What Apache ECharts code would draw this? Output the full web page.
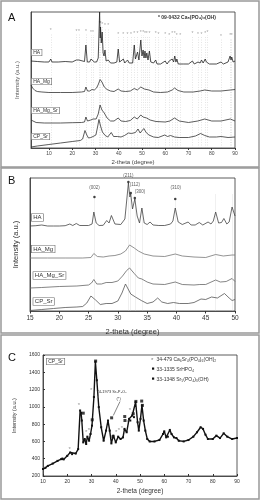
<!DOCTYPE html>
<html>
<head>
<meta charset="utf-8">
<script src="https://cdn.jsdelivr.net/npm/echarts@6/dist/echarts.min.js"></script>
<style>
  html, body { margin: 0; padding: 0; background: #fff; }
  #main { width: 261px; height: 500px; }
</style>
</head>
<body>
<div id="main"></div>
<script>
// ---- panel A : full scan, traces stacked with offsets (a.u.) ----
const aHA = [[2.3,87],[3,86],[5,86.5],[8,86],[10,86],[10.8,89],[11.3,86],[14,86],[17,86.5],[20,86],[21.8,88],[22.4,86],[22.9,88],[23.5,86],[25.3,86.5],[25.9,103],[26.5,86],[27.5,86],[28.1,89],[28.5,87],[28.9,91],[29.5,86],[30.5,86],[31.2,90],[31.8,136],[32.05,110],[32.2,121],[32.5,105],[32.9,116],[33.3,95],[33.7,92],[34.1,98],[34.6,87],[35.5,88],[36.5,85],[38,85],[39.2,86],[39.8,99],[40.4,86],[42,89],[42.6,85],[43.8,88],[44.5,85],[45.3,87],[46,85],[46.7,103],[47.2,89],[48.1,96],[48.7,88],[49.5,108],[50,92],[50.5,98],[50.9,90],[51.3,97],[51.7,90],[52.1,95],[52.6,88],[53.2,97],[53.8,86],[55,85],[55.9,88],[56.5,84],[57.1,86],[58,84],[60,87],[60.8,84],[61.7,87],[62.3,85],[63,89],[63.6,86],[64.1,92],[64.6,86],[65,89],[65.6,84],[66.4,86],[68,84],[70,84],[71.7,87],[72.5,84],[74.1,86],[75,85],[75.6,88],[76.3,85],[77.2,89],[77.7,86],[78.2,88],[79,84],[82,84],[84,86],[85,84],[87,86],[87.9,92],[88.3,88],[88.6,91],[89.2,86],[90,87]];
const aHAMg = [[2.3,63],[3,60],[4,57.5],[5,56.5],[7,56],[10,55.5],[15,55.5],[20,55.5],[24,56],[25.3,56.5],[25.9,61],[26.6,57],[27.5,57],[28.5,58.5],[29.5,58],[30.5,60],[31.3,64],[32,68.5],[32.8,66],[33.8,61],[35,58.5],[36.5,57],[38,56.5],[39.8,59],[41,57],[43,56.5],[45,57],[46.7,59.5],[48,58],[49.5,61],[51,59],[53,58],[55,56],[58,55.5],[61,56],[63,58],[64,60],[65.5,57.5],[68,56],[72,56],[75,57],[77,58],[80,57],[84,57],[88,58],[90,58.5]];
const aHAMgSr = [[2.3,28],[3,26.5],[4.5,25.5],[8,25],[15,25],[20,25.3],[24,25.5],[25.3,26],[25.9,31],[26.6,27],[28,28],[29,29],[30.3,29],[31.2,34],[32,43],[32.8,38],[33.8,35],[35,30],[36.5,27],[38,27],[39.8,30],[41,27],[43,26.5],[45,27.5],[46.7,31],[48,29],[49.5,33],[50.5,31],[52,30],[53.5,28],[56,26.5],[60,26],[62,27],[64,30],[66,27],[70,25.5],[74,27],[77,29],[80,27],[84,27],[88,29],[90,27]];
const aCPSr = [[2.3,1],[5,2],[10,3.5],[15,5],[20,6.5],[23.5,7.5],[24.5,9],[25.5,17.5],[26.3,13],[27,10],[28,10.5],[29,11.5],[30.2,13],[31,22],[31.5,28.5],[32.2,22],[33,16],[34.2,12.5],[35.3,11],[36.8,15.5],[37.8,11.5],[39.5,11.5],[41,11],[42.5,12.5],[44.2,15],[45.5,14.5],[46.3,16.5],[47.2,15.5],[48.3,19],[49.2,15],[50.8,19.5],[51.8,15.5],[53,13],[55,11],[57,10.5],[59.8,13],[61,11.5],[62.3,12.5],[64,11],[66,10.5],[70,10.5],[73,12],[75.2,14.5],[77,12.5],[79,11],[82,11],[84,11.5],[87,10.5],[90,11]];
// 09-0432 reference positions and height of the asterisk
const aRefPos = [10.8,21.8,22.9,25.9,28.1,28.9,31.8,32.2,32.9,34.1,35.5,39.8,42.0,43.8,45.3,46.7,48.1,49.5,50.5,51.3,52.1,53.2,55.9,57.1,60.0,61.7,63.0,64.1,65.0,66.4,71.7,74.1,75.6,77.2,78.2,84.0,87.9,88.6];
const aRefTop = [115,114,114,114,113,113,122,122,121,120,120,111,111,111,111,112,112,113,113,112,112,112,112,111,111,110,112,112,110,110,112,111,111,112,113,109,110,110];
const aTicks = [10,20,30,40,50,60,70,80,90];

// ---- panel B : zoom 15-50 ----
const bHA = [[15,85],[16,85.3],[17,86],[18,85],[19,85],[20,85],[21,85.3],[21.8,87],[22.3,85.5],[22.9,87.5],[23.5,85.5],[25,85.5],[25.6,87],[25.9,99],[26.3,88],[26.8,85.5],[27.5,85.7],[28.1,90.5],[28.5,88],[28.9,95.5],[29.5,87],[30.5,86.5],[31.2,92],[31.5,110],[31.8,128],[32.05,114],[32.2,117],[32.5,102],[32.9,112],[33.3,95],[33.7,88],[34.1,103],[34.5,88],[35,86.5],[35.5,89],[36,86],[37,85.5],[38,85.5],[39,87],[39.4,90],[39.8,103],[40.3,89],[41,86.5],[42,89],[42.5,86],[43.2,86],[43.9,88.5],[44.5,86],[45.4,89],[45.9,87],[46.3,90],[46.7,99],[47.2,88],[47.7,88.5],[48.1,92.5],[48.6,87],[49,89],[49.5,104],[50,95]];
const bHAMg = [[15,53],[18,53],[21,53],[24,53],[25.4,53.5],[25.9,57.5],[26.5,54.5],[27.5,54],[28.5,55],[29.5,55.5],[30.5,57],[31.3,60],[32,66],[32.8,63],[33.5,60],[34.5,57],[36,55],[38,54.5],[39.8,57],[41,55],[43,54],[45,53.5],[46.7,56.5],[48,55],[49.5,56],[50,56]];
const bHAMgSr = [[15,23],[17,23.5],[20,24.5],[23,25],[25,26],[25.5,28],[25.9,31.5],[26.4,27],[27.2,27],[28,28.5],[29,28.5],[30,30],[30.8,35],[31.5,40.5],[32,43],[32.8,37.5],[33.5,33],[34.1,32],[35,29],[36,27],[38,26.5],[39.8,29],[41,26.5],[43,26],[44,26.5],[45,26.5],[46.7,31],[47.5,29],[48.5,29.5],[49.5,32.5],[50,29.5]];
const bCPSr = [[15,0.5],[17,1.5],[19,2.5],[21,3.5],[23,4],[24,4.5],[24.7,8],[25.4,15],[26.2,11],[27,6.5],[28,7.5],[29,7.5],[30,10],[30.7,18],[31.3,27],[31.6,25],[32.2,17],[33,14],[34,10.5],[35,7.5],[36,9],[36.8,13],[37.5,9],[38.5,7.5],[39.5,8.5],[40.5,7.5],[42,7.5],[43,8.5],[44.2,12],[45,11.5],[46,14],[47,13],[48.2,17.5],[49,13],[49.5,10.5],[50,11.5]];
const bRefPos = [26.0,31.8,32.2,32.9,34.1,39.8,46.7,49.5];
const bRefTop = [114,129,118,113,103,112,117,117];
const bDots = [[26.0,114],[31.8,129],[32.2,118],[32.9,113],[39.8,112]];
const bHkl = [['(002)',26.0,120.5],['(211)',31.8,133],['(112)',32.9,124],['(300)',33.8,116.5],['(310)',39.9,120.5]];

// ---- panel C : CP_Sr counts ----
const cCPSr = [[10,280],[11,295],[12,317],[14,344],[16,375],[17.5,395],[18,402],[18.5,392],[20,433],[21.2,472],[22,453],[23.5,460],[24.5,511],[25.3,958],[25.7,930],[26,842],[26.6,589],[27.2,628],[27.8,570],[28.3,655],[29,608],[29.6,686],[30.2,783],[31,1114],[31.6,1523],[32.2,1308],[33,997],[34,764],[35,608],[36,725],[36.8,842],[37.5,725],[38.2,577],[39,667],[40,589],[41,655],[42,628],[43,647],[43.6,745],[44.5,706],[45.5,861],[46,842],[46.8,900],[47.5,881],[48.2,1056],[49,822],[49.5,725],[50.2,861],[50.8,1017],[51.5,842],[52.2,725],[53,628],[54,600],[56,600],[58,616],[59.5,686],[60,717],[60.8,647],[61.5,655],[62.3,733],[63,686],[64,647],[65,639],[66,608],[68,600],[70,616],[72,655],[73.5,706],[75,764],[76,745],[77,678],[78,628],[80,628],[81.5,667],[83,639],[84.5,694],[86,655],[88,628],[90,639]];
const cStars = [[21.0,511],[24.8,1017],[27.8,705],[28.9,733],[29.9,1192],[32.6,1094],[40.2,705],[41.3,725],[42.5,748],[44.8,822],[45.8,958]];
const cSquares = [[26.6,927],[30.3,850],[31.7,1530],[38.3,873],[38.9,655],[43.7,888],[43.8,842],[47.2,920],[48.3,1063],[50.7,1067],[51.0,1017]];
const cTicksY = [200,400,600,800,1000,1200,1400,1600];

const FONT = '"Liberation Sans", Arial, "DejaVu Sans", sans-serif';

const chart = echarts.init(document.getElementById('main'), null, { renderer: 'canvas' });

function refLines(pos, top, grid, style, star) {
  return {
    type: 'lines',
    coordinateSystem: 'cartesian2d',
    xAxisIndex: grid, yAxisIndex: grid,
    silent: true, z: 1,
    lineStyle: style,
    label: star ? { show: true, position: 'end', formatter: '*', fontSize: 5, color: '#444', distance: 0 } : { show: false },
    data: pos.map((p, i) => ({ coords: [[p, 0], [p, top[i]]] }))
  };
}

function trace(data, grid, color, width) {
  return {
    type: 'line', xAxisIndex: grid, yAxisIndex: grid, data: data,
    showSymbol: false, silent: true, z: 3,
    lineStyle: { color: color, width: width }
  };
}

function box(text, x, y, size) {
  return {
    type: 'text', x: x, y: y, z: 10,
    style: {
      text: text, font: size + 'px ' + FONT, fill: '#333',
      backgroundColor: '#fff', borderColor: '#666', borderWidth: 0.6, padding: [0.5, 1.5]
    }
  };
}

const axisCommon = {
  splitLine: { show: false },
  axisLine: { lineStyle: { color: '#333', width: 0.8 } }
};

const option = {
  animation: false,
  grid: [
    { left: 31, top: 12, width: 204, height: 136, show: true, borderColor: '#333', borderWidth: 0.8 },
    { left: 30, top: 178, width: 205, height: 133, show: true, borderColor: '#333', borderWidth: 0.8 },
    { left: 43, top: 355, width: 194, height: 121, show: true, borderColor: '#333', borderWidth: 0.8 }
  ],
  xAxis: [
    Object.assign({}, axisCommon, {
      gridIndex: 0, type: 'value', min: 2.3, max: 90,
      name: '2-theta (degree)', nameLocation: 'middle', nameGap: 11,
      nameTextStyle: { fontSize: 6, color: '#444', fontFamily: FONT },
      axisTick: { length: 2, customValues: aTicks, lineStyle: { color: '#333' } },
      axisLabel: { customValues: aTicks, fontSize: 5, margin: 3, color: '#444', fontFamily: FONT }
    }),
    Object.assign({}, axisCommon, {
      gridIndex: 1, type: 'value', min: 15, max: 50, interval: 5,
      name: '2-theta (degree)', nameLocation: 'middle', nameGap: 17,
      nameTextStyle: { fontSize: 7.5, color: '#333', fontFamily: FONT },
      axisTick: { length: 2.5 },
      axisLabel: { fontSize: 6.5, margin: 4, color: '#333', fontFamily: FONT }
    }),
    Object.assign({}, axisCommon, {
      gridIndex: 2, type: 'value', min: 10, max: 90, interval: 10,
      name: '2-theta (degree)', nameLocation: 'middle', nameGap: 12,
      nameTextStyle: { fontSize: 6.5, color: '#333', fontFamily: FONT },
      axisTick: { length: 2, inside: true },
      axisLabel: { fontSize: 5, margin: 3, color: '#333', fontFamily: FONT }
    })
  ],
  yAxis: [
    Object.assign({}, axisCommon, {
      gridIndex: 0, type: 'value', min: 0, max: 136,
      name: 'Intensity (a.u.)', nameLocation: 'middle', nameGap: 11,
      nameTextStyle: { fontSize: 6, color: '#555', fontFamily: FONT },
      axisTick: { show: false }, axisLabel: { show: false }
    }),
    Object.assign({}, axisCommon, {
      gridIndex: 1, type: 'value', min: 0, max: 133,
      name: 'Intensity (a.u.)', nameLocation: 'middle', nameGap: 10,
      nameTextStyle: { fontSize: 7.5, color: '#333', fontFamily: FONT },
      axisTick: { show: false }, axisLabel: { show: false }
    }),
    Object.assign({}, axisCommon, {
      gridIndex: 2, type: 'value', min: 200, max: 1600, interval: 200,
      name: 'Intensity (a.u.)', nameLocation: 'middle', nameGap: 19,
      nameTextStyle: { fontSize: 5.5, color: '#333', fontFamily: FONT },
      axisTick: { length: 2, inside: true },
      axisLabel: { fontSize: 5, margin: 3, color: '#333', fontFamily: FONT, formatter: v => cTicksY.indexOf(v) >= 0 ? v : '' }
    })
  ],
  series: [
    refLines(aRefPos, aRefTop, 0, { color: '#999', width: 0.5, type: [1, 1.5] }, true),
    trace(aHA, 0, '#222', 0.8),
    trace(aHAMg, 0, '#333', 0.8),
    trace(aHAMgSr, 0, '#333', 0.8),
    trace(aCPSr, 0, '#333', 0.8),

    refLines(bRefPos, bRefTop, 1, { color: '#ccc', width: 0.6, type: 'solid' }, false),
    trace(bHA, 1, '#444', 0.8),
    trace(bHAMg, 1, '#777', 0.8),
    trace(bHAMgSr, 1, '#666', 0.8),
    trace(bCPSr, 1, '#555', 0.8),
    {
      type: 'scatter', xAxisIndex: 1, yAxisIndex: 1, silent: true, z: 5,
      symbol: 'circle', symbolSize: 2.5, itemStyle: { color: '#111' }, data: bDots
    },
    {
      type: 'scatter', xAxisIndex: 1, yAxisIndex: 1, silent: true, z: 5, symbolSize: 0,
      data: bHkl.map(h => ({ value: [h[1], h[2]], name: h[0] })),
      label: { show: true, position: 'top', distance: 0, formatter: p => p.name, fontSize: 4.5, color: '#333', fontFamily: FONT }
    },

    {
      type: 'line', xAxisIndex: 2, yAxisIndex: 2, data: cCPSr, silent: true, z: 3,
      showSymbol: true, symbol: 'rect', symbolSize: 2, itemStyle: { color: '#111' },
      lineStyle: { color: '#111', width: 1.4 }
    },
    {
      type: 'scatter', xAxisIndex: 2, yAxisIndex: 2, silent: true, z: 5, symbolSize: 0, data: cStars,
      label: { show: true, position: 'inside', formatter: '*', fontSize: 6, color: '#777' }
    },
    {
      type: 'scatter', xAxisIndex: 2, yAxisIndex: 2, silent: true, z: 5,
      symbol: 'rect', symbolSize: 3, itemStyle: { color: '#111' }, data: cSquares
    }
  ],
  graphic: [
    { type: 'rect', shape: { x: 1, y: 1, width: 258, height: 166 }, style: { fill: 'none', stroke: '#999', lineWidth: 1.5 }, silent: true },
    { type: 'rect', shape: { x: 1, y: 168, width: 258, height: 165 }, style: { fill: 'none', stroke: '#999', lineWidth: 1.5 }, silent: true },
    { type: 'rect', shape: { x: 1, y: 335, width: 258, height: 164 }, style: { fill: 'none', stroke: '#999', lineWidth: 1.5 }, silent: true },

    { type: 'text', x: 8, y: 12, style: { text: 'A', font: '11px ' + FONT, fill: '#111' } },
    { type: 'text', x: 8, y: 175, style: { text: 'B', font: '11px ' + FONT, fill: '#111' } },
    { type: 'text', x: 8, y: 352, style: { text: 'C', font: '11px ' + FONT, fill: '#111' } },

    { type: 'text', x: 158, y: 15.5, z: 10, style: { text: '* 09-0432 Ca₅(PO₄)₃(OH)', font: 'bold 5px ' + FONT, fill: '#333' } },

    box('HA', 31.7, 49.5, 5),
    box('HA_Mg', 31.7, 78.5, 5),
    box('HA_Mg_Sr', 31.7, 107.5, 5),
    box('CP_Sr', 31.7, 133.5, 5),

    box('HA', 31.7, 214, 6),
    box('HA_Mg', 31.7, 245.5, 6),
    box('HA_Mg_Sr', 33.3, 272, 6),
    box('CP_Sr', 33.3, 298, 6),

    box('CP_Sr', 46.7, 358.5, 5),

    { type: 'text', x: 151, y: 357, z: 10, style: { text: '*', font: '6px ' + FONT, fill: '#777' } },
    { type: 'rect', shape: { x: 152, y: 367.5, width: 2.2, height: 2.2 }, style: { fill: '#111' } },
    { type: 'rect', shape: { x: 152, y: 377.5, width: 2.2, height: 2.2 }, style: { fill: '#111' } },
    { type: 'text', x: 156.5, y: 357, z: 10, style: { text: '34-479 Ca₆Sr₄(PO₄)₆(OH)₂', font: '5px ' + FONT, fill: '#333' } },
    { type: 'text', x: 156.5, y: 367, z: 10, style: { text: '33-1335 SrHPO₄', font: '5px ' + FONT, fill: '#333' } },
    { type: 'text', x: 156.5, y: 377, z: 10, style: { text: '33-1348 Sr₅(PO₄)₃(OH)', font: '5px ' + FONT, fill: '#333' } },

    { type: 'text', x: 96.5, y: 389.5, z: 10, style: { text: '74-1973 Sr₂P₂O₇', font: '4px ' + FONT, fill: '#333' } },
    { type: 'text', x: 116.5, y: 396.5, z: 10, style: { text: '(*)', font: '4px ' + FONT, fill: '#333' } },
    { type: 'line', shape: { x1: 120, y1: 401.5, x2: 113.3, y2: 415.5 }, style: { stroke: '#333', lineWidth: 0.6 } }
  ]
};

chart.setOption(option);
</script>
</body>
</html>
